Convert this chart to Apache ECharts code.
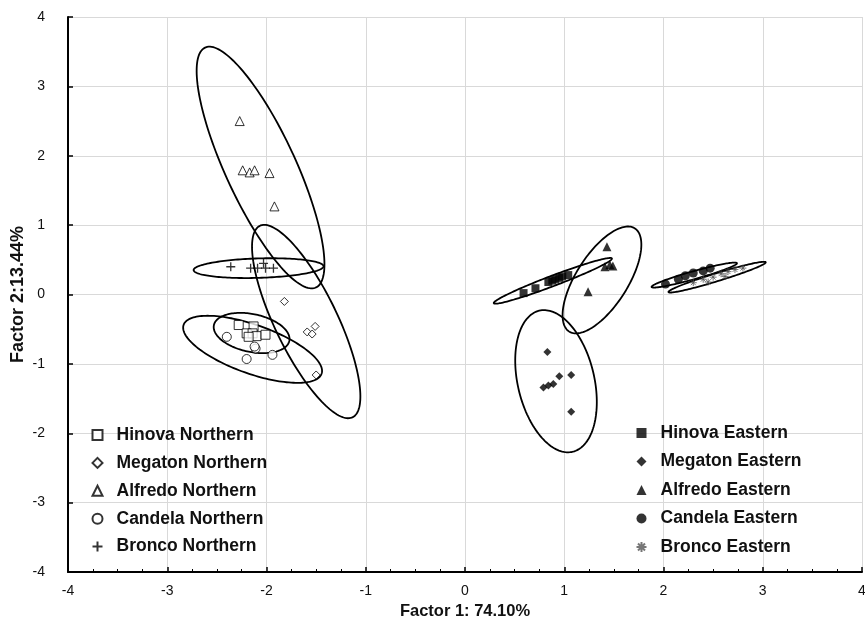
<!DOCTYPE html>
<html>
<head>
<meta charset="utf-8">
<script src="https://cdn.jsdelivr.net/npm/echarts@6/dist/echarts.min.js"></script>
<style>
  html, body { margin: 0; padding: 0; background: #fff; }
  #chart { width: 865px; height: 636px; }
</style>
</head>
<body>
<div id="chart"></div>
<script>
// factor scores: [factor1, factor2]
const hinovaN = [[-2.28, -0.44], [-2.13, -0.46], [-2.20, -0.56], [-2.14, -0.56], [-2.10, -0.60], [-2.01, -0.58], [-2.18, -0.61]]
const megatonN = [[-1.82, -0.10], [-1.59, -0.54], [-1.54, -0.57], [-1.51, -0.46], [-1.50, -1.16]]
const alfredoN = [[-2.27, 2.50], [-2.24, 1.79], [-2.17, 1.76], [-2.12, 1.79], [-1.97, 1.75], [-1.92, 1.27]]
const candelaN = [[-2.40, -0.61], [-2.11, -0.78], [-2.20, -0.93], [-1.94, -0.87], [-2.12, -0.75]]
const broncoN = [[-2.36, 0.40], [-2.16, 0.38], [-2.09, 0.38], [-2.03, 0.45], [-2.01, 0.38], [-1.93, 0.38]]

const hinovaE = [[0.59, 0.02], [0.71, 0.09], [0.84, 0.18], [0.88, 0.20], [0.91, 0.22], [0.95, 0.24], [0.98, 0.26], [1.04, 0.28]]
const megatonE = [[0.83, -0.83], [0.95, -1.18], [1.07, -1.16], [0.79, -1.34], [0.84, -1.31], [0.89, -1.29], [1.07, -1.69]]
const alfredoE = [[1.43, 0.69], [1.41, 0.40], [1.46, 0.43], [1.49, 0.41], [1.24, 0.04]]
const candelaE = [[2.02, 0.15], [2.15, 0.22], [2.22, 0.27], [2.30, 0.31], [2.40, 0.34], [2.47, 0.38]]
const broncoE = [[2.30, 0.17], [2.40, 0.22], [2.45, 0.18], [2.50, 0.25], [2.58, 0.30], [2.62, 0.26], [2.65, 0.33], [2.72, 0.36], [2.80, 0.38]]

// confidence ellipses: [centre x, centre y, semi-axis a, semi-axis b, angle in degrees]
const ellipses = [
  [-2.06, 1.83, 1.82, 0.37, -72.8],
  [-1.60, -0.39, 1.46, 0.33, -72.2],
  [-2.08, 0.38, 0.655, 0.14, 2.5],
  [-2.15, -0.555, 0.40, 0.265, -23.3],
  [-2.14, -0.79, 0.784, 0.33, -29.8],
  [0.885, 0.197, 0.677, 0.07, 28.6],
  [0.917, -1.25, 1.033, 0.39, 97.8],
  [1.38, 0.21, 0.82, 0.28, 68.6],
  [2.31, 0.28, 0.463, 0.055, 21.9],
  [2.54, 0.25, 0.535, 0.055, 23.8]
]

const ticks = [-4, -3, -2, -1, 0, 1, 2, 3, 4]

const font = "'Liberation Sans', Arial, sans-serif"
const crossPath = 'path://M0,5L10,5M5,0L5,10'
const starPath = 'path://M0,5L10,5M5,0L5,10M1.5,1.5L8.5,8.5M8.5,1.5L1.5,8.5'

const openStyle = { color: '#fff', borderColor: '#000', borderWidth: 1 }
const filledStyle = { color: '#000', borderColor: '#000', borderWidth: 0 }

const scatter = (name, data, symbol, itemStyle, size) => ({
  name,
  type: 'scatter',
  data,
  symbol,
  symbolSize: size || 9,
  itemStyle,
  z: 3
})

const axisCommon = {
  min: ticks[0],
  max: ticks[ticks.length - 1],
  interval: 1,
  axisLine: { onZero: false, lineStyle: { color: '#000', width: 2 } },
  axisTick: { inside: true, length: 5, lineStyle: { color: '#000', width: 1.5 } },
  axisLabel: { color: '#111', fontSize: 14, fontFamily: font, margin: 12 },
  splitLine: { show: true, lineStyle: { color: '#d9d9d9', width: 1 } },
  nameLocation: 'middle',
  nameMoveOverlap: false
}

const legendCommon = {
  orient: 'vertical',
  padding: 0,
  itemWidth: 10,
  itemHeight: 10,
  itemGap: 10.5,
  textStyle: { color: '#111', fontSize: 17.5, fontWeight: 'bold', fontFamily: font, padding: [0, 0, 0, 9] }
}

const chart = echarts.init(document.getElementById('chart'))

chart.setOption({
  animation: false,
  backgroundColor: '#fff',
  grid: { left: 68, right: 3, top: 17, bottom: 64, outerBoundsMode: 'none', containLabel: false },
  xAxis: {
    ...axisCommon,
    type: 'value',
    name: 'Factor 1: 74.10%',
    nameGap: 31,
    nameTextStyle: { color: '#111', fontSize: 16.5, fontWeight: 'bold', fontFamily: font },
    minorTick: { show: true, splitNumber: 4, length: 3, lineStyle: { color: '#000', width: 1 } }
  },
  yAxis: {
    ...axisCommon,
    type: 'value',
    name: 'Factor 2:13.44%',
    nameGap: 41,
    nameTextStyle: { color: '#111', fontSize: 18, fontWeight: 'bold', fontFamily: font },
    axisLabel: { ...axisCommon.axisLabel, margin: 23 }
  },
  legend: [
    {
      ...legendCommon,
      left: 90,
      top: 426,
      itemGap: 9.9,
      data: ['Hinova Northern', 'Megaton Northern', 'Alfredo Northern', 'Candela Northern', 'Bronco Northern']
    },
    {
      ...legendCommon,
      left: 634,
      top: 424,
      data: ['Hinova Eastern', 'Megaton Eastern', 'Alfredo Eastern', 'Candela Eastern', 'Bronco Eastern']
    }
  ],
  series: [
    {
      type: 'custom',
      coordinateSystem: 'cartesian2d',
      data: ellipses,
      encode: { x: 0, y: 1 },
      silent: true,
      z: 2,
      renderItem: (params, api) => {
        const cx = api.value(0)
        const cy = api.value(1)
        const a = api.value(2)
        const b = api.value(3)
        const ang = api.value(4) * Math.PI / 180
        const pts = []
        for (let i = 0; i <= 160; i++) {
          const t = i / 160 * Math.PI * 2
          const x = cx + a * Math.cos(ang) * Math.cos(t) - b * Math.sin(ang) * Math.sin(t)
          const y = cy + a * Math.sin(ang) * Math.cos(t) + b * Math.cos(ang) * Math.sin(t)
          pts.push(api.coord([x, y]))
        }
        return {
          type: 'polygon',
          shape: { points: pts },
          style: { fill: 'none', stroke: '#000', lineWidth: 1.8 }
        }
      }
    },
    scatter('Hinova Northern', hinovaN, 'rect', openStyle),
    scatter('Megaton Northern', megatonN, 'diamond', openStyle, 8),
    scatter('Alfredo Northern', alfredoN, 'triangle', openStyle),
    scatter('Candela Northern', candelaN, 'circle', openStyle),
    scatter('Bronco Northern', broncoN, crossPath, { color: 'none', borderColor: '#000', borderWidth: 1.3 }),
    scatter('Hinova Eastern', hinovaE, 'rect', filledStyle, 8),
    scatter('Megaton Eastern', megatonE, 'diamond', filledStyle, 8),
    scatter('Alfredo Eastern', alfredoE, 'triangle', filledStyle, 9),
    scatter('Candela Eastern', candelaE, 'circle', filledStyle, 9),
    scatter('Bronco Eastern', broncoE, starPath, { color: 'none', borderColor: '#555', borderWidth: 1 }, 7)
  ]
})
</script>
</body>
</html>
